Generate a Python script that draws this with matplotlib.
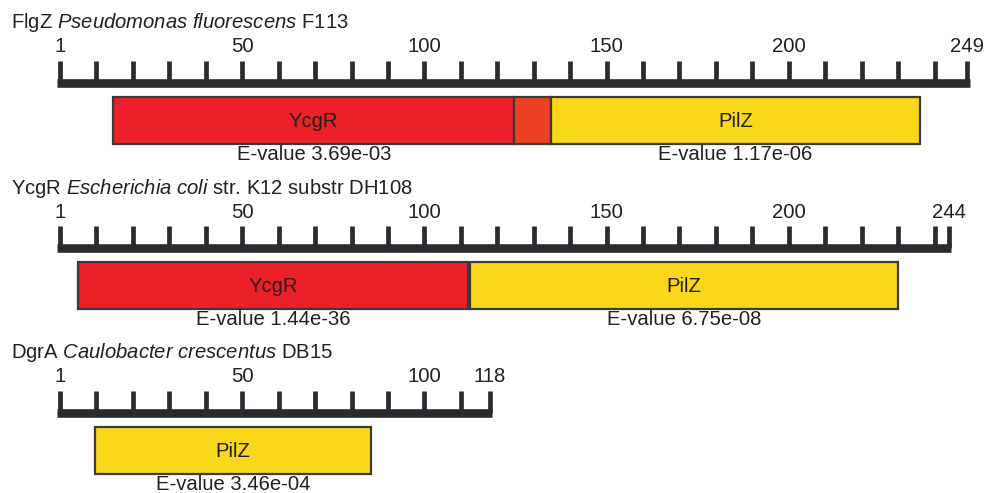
import matplotlib.pyplot as plt
import matplotlib.patches as mpatches

plt.rcParams['font.family'] = 'Liberation Sans'
plt.rcParams['mathtext.fontset'] = 'custom'
plt.rcParams['mathtext.rm'] = 'Liberation Sans'
plt.rcParams['mathtext.it'] = 'Liberation Sans:italic'

# proteins, one row each
proteins = ['FlgZ', 'YcgR', 'DgrA']
species = ['Pseudomonas fluorescens', 'Escherichia coli', 'Caulobacter crescentus']
strains = ['F113', 'str. K12 substr DH108', 'DB15']
lengths = [249, 244, 118]
ruler_labels = [[1, 50, 100, 150, 200, 249],
                [1, 50, 100, 150, 200, 244],
                [1, 50, 100, 118]]

# domains (residue start / end)
domain_names = [['YcgR', '', 'PilZ'], ['YcgR', 'PilZ'], ['PilZ']]
domain_start = [[14.6, 124.7, 134.7], [5.0, 112.6], [9.6]]
domain_end = [[124.7, 134.7, 236.0], [112.0, 230.0], [85.4]]
domain_kind = [['ycgr', 'ext', 'pilz'], ['ycgr', 'pilz'], ['pilz']]
evalues = [['3.69e-03', None, '1.17e-06'], ['1.44e-36', '6.75e-08'], ['3.46e-04']]

colors = {'ycgr': '#EC2028', 'ext': '#EE4025', 'pilz': '#F9D71A'}
ink = '#231F20'
ruler_col = '#2B2A2E'

PX = 3.644  # pixels per residue
fig = plt.figure(figsize=(9.9, 4.93), dpi=100)
ax = fig.add_axes([0, 0, 1, 1])
ax.set_xlim(-60 / PX, (990 - 60) / PX)
ax.set_ylim(493, 0)
ax.axis('off')

for i in range(len(proteins)):
    y0 = 82.5 + 165 * i
    L = lengths[i]

    sp = species[i].replace(' ', r'\ ')
    title = proteins[i] + ' $\\mathit{' + sp + '}$ ' + strains[i]
    ax.text(-48.5 / PX, y0 - 54, title, fontsize=14.6, color=ink, va='baseline', ha='left')

    # ruler
    ax.plot([-0.8, L + 0.6], [y0, y0], color=ruler_col, lw=6.2, solid_capstyle='butt')
    ticks = list(range(0, L, 10)) + [L]
    ax.vlines(ticks, y0 - 22, y0, color=ruler_col, lw=3.4)
    for v in ruler_labels[i]:
        pos = 0 if v == 1 else v
        ax.text(pos, y0 - 30, str(v), fontsize=14.6, color=ink, ha='center', va='baseline')

    # domain boxes
    for name, s, e, k, ev in zip(domain_names[i], domain_start[i], domain_end[i],
                                 domain_kind[i], evalues[i]):
        ax.add_patch(mpatches.Rectangle((s, y0 + 14.5), e - s, 47, facecolor=colors[k],
                                        edgecolor='#3A3A3A', lw=1.6))
        mid = (s + e) / 2
        if name:
            ax.text(mid, y0 + 44.5, name, fontsize=14.6, color=ink, ha='center', va='baseline')
        if ev:
            ax.text(mid, y0 + 77.5, 'E-value ' + ev, fontsize=14.6, color=ink,
                    ha='center', va='baseline')

fig.savefig('out.png', dpi=100)
